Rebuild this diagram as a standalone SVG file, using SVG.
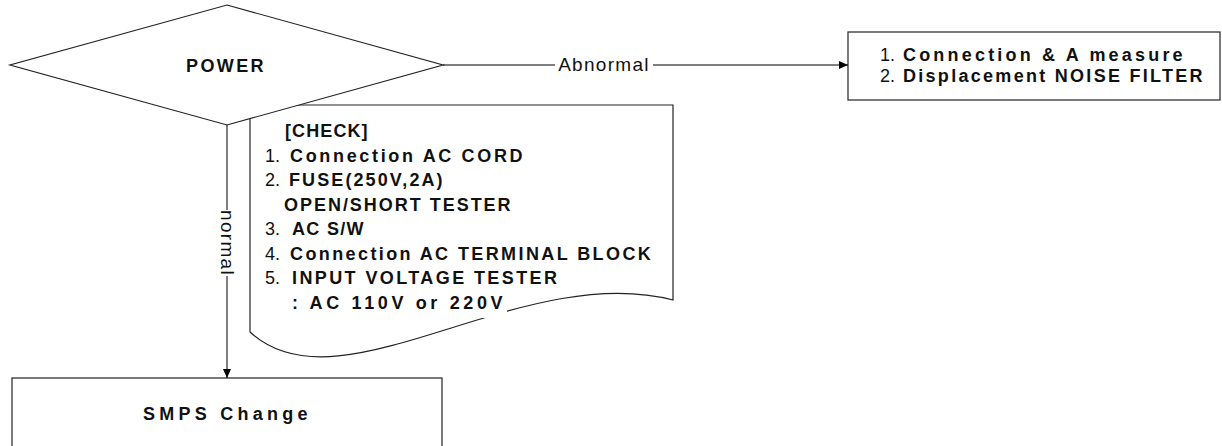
<svg xmlns="http://www.w3.org/2000/svg" width="1222" height="446" viewBox="0 0 1222 446">
<defs>
<marker id="arr" markerWidth="10" markerHeight="10" refX="9" refY="5" orient="auto" markerUnits="userSpaceOnUse"><path d="M0,1 L9,5 L0,9 Z" fill="#000"/></marker>
<style>
.shape{fill:#fff;stroke:#222;stroke-width:1.2}
.line{fill:none;stroke:#000;stroke-width:1}
.b{font-family:"Liberation Sans",Arial,sans-serif;font-size:18px;font-weight:bold;fill:#111;letter-spacing:2.4px}
.n{font-family:"Liberation Sans",Arial,sans-serif;font-size:18px;font-weight:normal;fill:#111}
.lbl{font-family:"Liberation Sans",Arial,sans-serif;font-size:19px;fill:#111;letter-spacing:1.3px}
</style>
</defs>
<rect width="1222" height="446" fill="#fff"/>
<g id="check-note">
<path class="shape" d="M250,105 L673,105 L673,300 C520,260 340,415 250,332 Z"/>
<rect x="452" y="296" width="55" height="22" fill="#fff"/>
<text class="b" x="285" y="137" textLength="85">[CHECK]</text>
<text class="n" x="265" y="161.5">1.</text><text class="b" x="290" y="161.5" textLength="235">Connection AC CORD</text>
<text class="n" x="265" y="186">2.</text><text class="b" x="289" y="186" textLength="156">FUSE(250V,2A)</text>
<text class="b" x="284" y="210.5" textLength="229">OPEN/SHORT TESTER</text>
<text class="n" x="265" y="235">3.</text><text class="b" x="292" y="235" textLength="74">AC S/W</text>
<text class="n" x="265" y="259.5">4.</text><text class="b" x="290" y="259.5">Connection AC TERMINAL BLOCK</text>
<text class="n" x="265" y="284">5.</text><text class="b" x="292" y="284">INPUT VOLTAGE TESTER</text>
<text class="b" x="292" y="308.5" textLength="213">: AC 110V or 220V</text>
</g>
<g id="power">
<polygon class="shape" points="227,5 443,65 227,125 10,65"/>
<text class="b" x="226" y="72" text-anchor="middle">POWER</text>
</g>
<g id="result-box">
<rect class="shape" x="848" y="32" width="372" height="68"/>
<text class="n" x="880" y="61">1.</text><text class="b" x="903" y="61" textLength="282">Connection &amp; A measure</text>
<text class="n" x="880" y="82">2.</text><text class="b" x="903" y="82" textLength="302">Displacement NOISE FILTER</text>
</g>
<g id="smps">
<rect class="shape" x="12" y="378" width="430" height="80"/>
<text class="b" x="143" y="420" textLength="167">SMPS Change</text>
</g>
<g id="connectors">
<path class="line" d="M443,65 L555,65"/>
<path class="line" d="M653,65 L848,65" marker-end="url(#arr)"/>
<text class="lbl" x="604" y="71" text-anchor="middle">Abnormal</text>
<path class="line" d="M227,125 L227,210"/>
<path class="line" d="M227,276 L227,378" marker-end="url(#arr)"/>
<text class="lbl" x="0" y="0" text-anchor="middle" dominant-baseline="central" transform="translate(227,243) rotate(90)">normal</text>
</g>
</svg>
